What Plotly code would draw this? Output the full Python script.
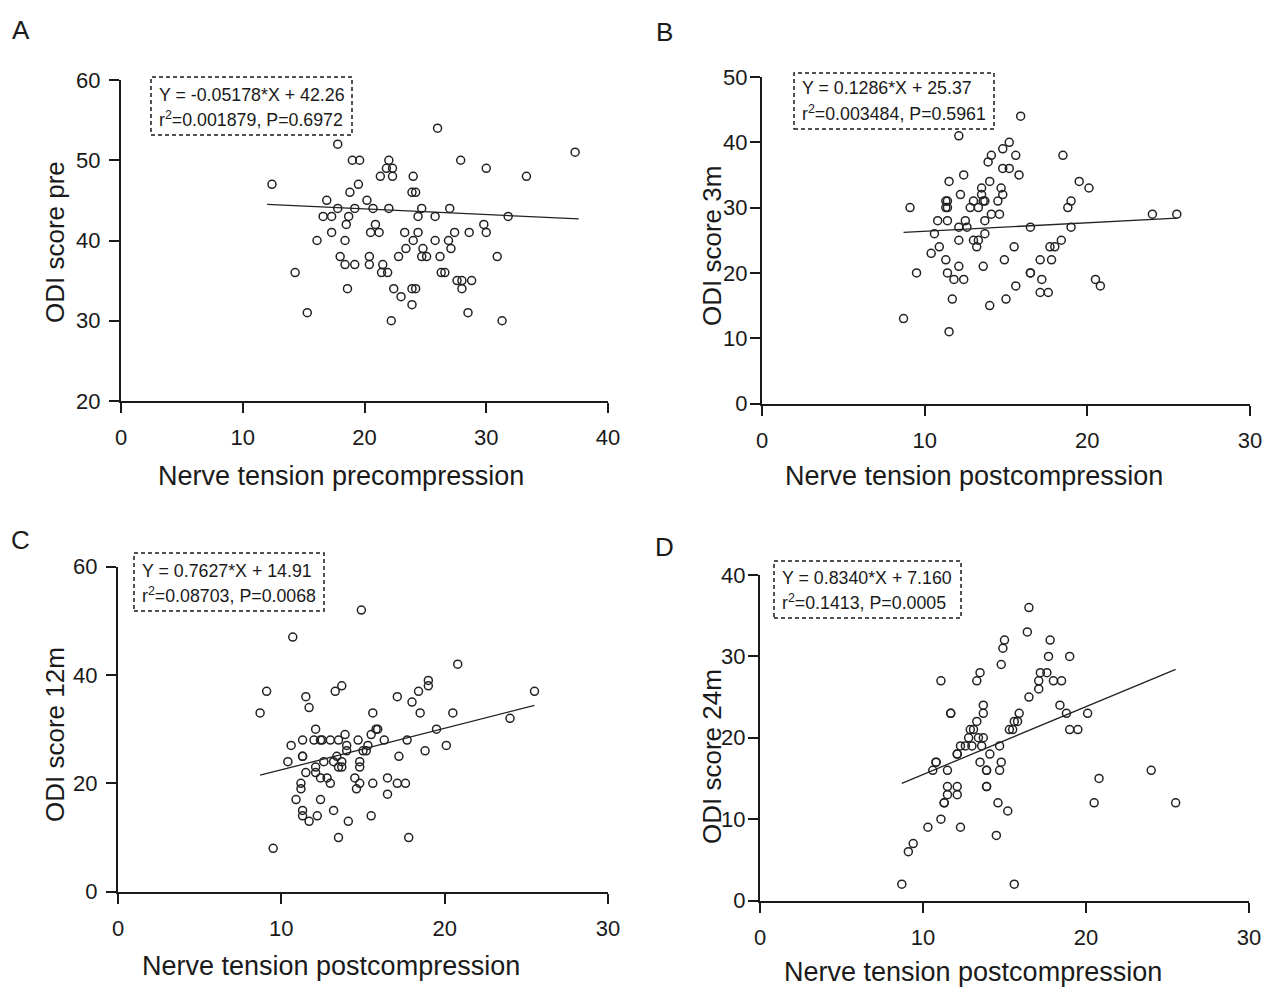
import plotly.graph_objects as go

W, H = 1264, 987

# ---------------- data ----------------
# Panel A: Nerve tension precompression vs ODI score pre
x_a = [17.8, 19.0, 19.6, 22.0, 21.8, 22.3, 21.3, 22.3, 12.4, 19.5, 18.8, 16.9, 20.2, 17.8, 19.2, 20.7, 22.0,
       16.6, 17.3, 18.7, 18.5, 20.9, 20.5, 21.2, 17.3, 16.1, 18.4, 18.0, 18.4, 19.2, 20.4, 20.4, 21.5, 21.4,
       21.9, 14.3, 18.6, 15.3, 22.2,
       26.0, 37.3, 27.9, 30.0, 24.0, 33.3, 23.9, 24.2, 24.7, 27.0, 24.4, 25.8, 31.8, 29.8, 23.3, 24.4, 27.4,
       28.6, 30.0, 24.0, 25.8, 26.9, 23.4, 24.8, 27.1, 22.8, 24.7, 25.1, 26.2, 30.9, 26.3, 26.6, 27.6, 28.0,
       28.8, 22.4, 23.9, 24.2, 28.0, 23.0, 23.9, 28.5, 31.3]
y_a = [52, 50, 50, 50, 49, 49, 48, 48, 47, 47, 46, 45, 45, 44, 44, 44, 44,
       43, 43, 43, 42, 42, 41, 41, 41, 40, 40, 38, 37, 37, 38, 37, 37, 36,
       36, 36, 34, 31, 30,
       54, 51, 50, 49, 48, 48, 46, 46, 44, 44, 43, 43, 43, 42, 41, 41, 41,
       41, 41, 40, 40, 40, 39, 39, 39, 38, 38, 38, 38, 38, 36, 36, 35, 35,
       35, 34, 34, 34, 34, 33, 32, 31, 30]
fit_a_x = [12.0, 37.6]
fit_a_y = [44.5, 42.7]

# Panel B: Nerve tension postcompression vs ODI score 3m
x_b = [12.1, 15.2, 14.8, 14.1, 13.9, 14.8, 15.2, 12.4, 11.5, 14.0, 13.5, 13.5, 14.7, 14.8, 12.2, 11.3, 11.4,
       11.3, 11.4, 13.0, 13.6, 13.7, 14.5, 12.8, 13.3, 9.1, 14.1, 14.6, 10.8, 11.4, 12.5, 13.7, 12.1, 12.6,
       10.6, 13.7, 12.1, 13.0, 13.3, 13.2, 10.9, 10.4, 11.3, 14.9, 12.1, 13.6, 9.5, 11.4, 11.8, 12.4, 11.7,
       15.0, 14.0, 8.7, 11.5,
       15.9, 15.6, 18.5, 15.8, 19.5, 20.1, 19.0, 18.8, 24.0, 25.5, 16.5, 19.0, 18.4, 15.5, 17.7, 18.0, 17.1,
       17.8, 16.5, 16.5, 17.2, 20.5, 15.6, 20.8, 17.1, 17.6]
y_b = [41, 40, 39, 38, 37, 36, 36, 35, 34, 34, 33, 32, 33, 32, 32, 31, 31,
       30, 30, 31, 31, 31, 31, 30, 30, 30, 29, 29, 28, 28, 28, 28, 27, 27,
       26, 26, 25, 25, 25, 24, 24, 23, 22, 22, 21, 21, 20, 20, 19, 19, 16,
       16, 15, 13, 11,
       44, 38, 38, 35, 34, 33, 31, 30, 29, 29, 27, 27, 25, 24, 24, 24, 22,
       22, 20, 20, 19, 19, 18, 18, 17, 17]
fit_b_x = [8.7, 25.5]
fit_b_y = [26.2, 28.4]

# Panel C: Nerve tension postcompression vs ODI score 12m
x_c = [14.9, 10.7, 9.1, 11.5, 13.7, 13.3, 11.7, 8.7, 12.1, 11.3, 12.0, 12.4, 12.5, 13.0, 13.5, 13.9, 14.7,
       10.6, 14.0, 14.0, 11.3, 11.3, 10.4, 12.6, 13.4, 13.2, 13.7, 12.1, 13.5, 13.7, 14.8, 14.8, 11.5, 12.1,
       12.4, 12.8, 13.0, 11.2, 11.2, 14.5, 14.8, 14.6, 10.9, 12.4, 11.3, 11.3, 11.7, 12.2, 13.2, 14.1, 13.5,
       9.5,
       20.8, 19.0, 19.0, 18.4, 17.1, 25.5, 18.0, 15.6, 18.5, 20.5, 24.0, 15.8, 15.9, 15.5, 19.5, 16.3, 17.7,
       15.3, 15.0, 15.2, 18.8, 20.1, 17.2, 15.6, 16.5, 17.1, 17.6, 16.5, 15.5, 17.8]
y_c = [52, 47, 37, 36, 38, 37, 34, 33, 30, 28, 28, 28, 28, 28, 28, 29, 28,
       27, 27, 26, 25, 25, 24, 24, 25, 24, 24, 23, 23, 23, 24, 23, 22, 22,
       21, 21, 20, 20, 19, 21, 20, 19, 17, 17, 15, 14, 13, 14, 15, 13, 10,
       8,
       42, 39, 38, 37, 36, 37, 35, 33, 33, 33, 32, 30, 30, 29, 30, 28, 28,
       27, 26, 26, 26, 27, 25, 20, 21, 20, 20, 18, 14, 10]
fit_c_x = [8.7, 25.5]
fit_c_y = [21.5, 34.4]

# Panel D: Nerve tension postcompression vs ODI score 24m
x_d = [15.0, 14.9, 14.8, 11.1, 13.5, 13.3, 11.7, 11.7, 13.7, 13.7, 13.3, 12.9, 13.1, 15.3, 12.8, 13.4, 13.7,
       12.3, 12.6, 13.0, 13.6, 14.7, 12.1, 12.1, 14.1, 10.8, 10.8, 13.5, 14.8, 10.6, 11.5, 13.9, 13.9, 14.7,
       13.9, 13.9, 11.5, 12.1, 11.5, 12.1, 11.3, 11.3, 14.6, 15.2, 11.1, 10.3, 12.3, 14.5, 9.4, 9.1, 8.7,
       15.6,
       16.5, 16.4, 17.8, 17.7, 19.0, 17.2, 17.6, 17.1, 18.0, 18.5, 17.1, 16.5, 18.4, 15.9, 18.8, 20.1, 15.6,
       15.8, 15.5, 19.0, 19.5, 24.0, 20.8, 20.5, 25.5]
y_d = [32, 31, 29, 27, 28, 27, 23, 23, 24, 23, 22, 21, 21, 21, 20, 20, 20,
       19, 19, 19, 19, 19, 18, 18, 18, 17, 17, 17, 17, 16, 16, 16, 16, 16,
       14, 14, 14, 14, 13, 13, 12, 12, 12, 11, 10, 9, 9, 8, 7, 6, 2,
       2,
       36, 33, 32, 30, 30, 28, 28, 27, 27, 27, 26, 25, 24, 23, 23, 23, 22,
       22, 21, 21, 21, 16, 15, 12, 12]
fit_d_x = [8.7, 25.5]
fit_d_y = [14.4, 28.4]

panel_letters = ["A", "B", "C", "D"]
y_titles = ["ODI score pre", "ODI score 3m", "ODI score 12m", "ODI score 24m"]
x_titles = ["Nerve tension precompression", "Nerve tension postcompression",
            "Nerve tension postcompression", "Nerve tension postcompression"]
eq_line1 = ["Y = -0.05178*X + 42.26", "Y = 0.1286*X + 25.37",
            "Y = 0.7627*X + 14.91", "Y = 0.8340*X + 7.160"]
eq_line2 = ["r<sup>2</sup>=0.001879, P=0.6972", "r<sup>2</sup>=0.003484, P=0.5961",
            "r<sup>2</sup>=0.08703, P=0.0068", "r<sup>2</sup>=0.1413, P=0.0005"]
x_ranges = [[0, 40], [0, 30], [0, 30], [0, 30]]
y_ranges = [[20, 60], [0, 50], [0, 60], [0, 40]]
x_dticks = [10, 10, 10, 10]
y_dticks = [10, 10, 20, 10]

# ---------------- layout geometry (window pixels) ----------------
# plot areas: (left, right, top, bottom)
areas = [(121, 608, 80, 401), (762, 1250, 77, 403.5),
         (118, 608, 566.7, 891.7), (760, 1249, 575, 900.5)]
boxes = [(151, 352, 77, 135), (794, 994, 73, 129), (134, 324, 553, 611), (774, 961, 561, 618)]
eq_pos = [(157, 95, 119), (800, 88, 113), (140, 571, 595), (780, 578, 602)]
letter_pos = [(21, 30), (664, 32), (21, 540), (664, 547)]
ytitle_pos = [(55, 242), (712, 246), (55, 735), (712, 757)]
xtitle_pos = [(341, 476), (974, 476), (331, 966), (973, 972)]
ylabel_standoff = [4, -2, 4, -2]

def px(x):
    return x / W

def py(y):
    return 1 - y / H

FONT = "Liberation Sans, Arial, sans-serif"
INK = "#1a1a1a"

fig = go.Figure()
datasets = [(x_a, y_a, fit_a_x, fit_a_y), (x_b, y_b, fit_b_x, fit_b_y),
            (x_c, y_c, fit_c_x, fit_c_y), (x_d, y_d, fit_d_x, fit_d_y)]

layout = dict(width=W, height=H, margin=dict(l=0, r=0, t=0, b=0, pad=0, autoexpand=False),
              template="none",
              paper_bgcolor="white", plot_bgcolor="white", showlegend=False,
              font=dict(family=FONT, color=INK))
shapes = []
annotations = []

for i, (xs, ys, fx, fy) in enumerate(datasets):
    n = "" if i == 0 else str(i + 1)
    xa, ya = "x" + n, "y" + n
    fig.add_trace(go.Scatter(x=xs, y=ys, mode="markers", xaxis=xa, yaxis=ya,
                             marker=dict(symbol="circle-open", size=8, color="#222",
                                         line=dict(width=1.5, color="#222")),
                             cliponaxis=False))
    fig.add_trace(go.Scatter(x=fx, y=fy, mode="lines", xaxis=xa, yaxis=ya,
                             line=dict(color="#222", width=1.3)))
    l, r, t, b = areas[i]
    axis_common = dict(showgrid=False, zeroline=False, showline=True, linecolor=INK, linewidth=2,
                       ticks="outside", ticklen=10, tickwidth=2, tickcolor=INK, automargin=False,
                       tickfont=dict(family=FONT, size=22, color=INK), fixedrange=True)
    layout["xaxis" + n] = dict(axis_common, domain=[px(l), px(r)], range=x_ranges[i],
                               dtick=x_dticks[i], tick0=0, anchor=ya, ticklabelstandoff=6)
    layout["yaxis" + n] = dict(axis_common, domain=[py(b), py(t)], range=y_ranges[i],
                               dtick=y_dticks[i], tick0=0, anchor=xa,
                               ticklabelstandoff=ylabel_standoff[i])
    bl, br, bt, bb = boxes[i]
    shapes.append(dict(type="rect", xref="paper", yref="paper", x0=px(bl), x1=px(br),
                       y0=py(bb), y1=py(bt), line=dict(color=INK, width=1.5, dash="4px,3px")))
    ex, e1, e2 = eq_pos[i]
    annotations.append(dict(text=eq_line1[i], xref="paper", yref="paper", x=px(ex), y=py(e1),
                            xanchor="left", yanchor="middle", showarrow=False,
                            font=dict(family=FONT, size=17.8, color=INK)))
    annotations.append(dict(text=eq_line2[i], xref="paper", yref="paper", x=px(ex), y=py(e2),
                            xanchor="left", yanchor="middle", showarrow=False,
                            font=dict(family=FONT, size=17.8, color=INK)))
    lx, ly = letter_pos[i]
    annotations.append(dict(text=panel_letters[i], xref="paper", yref="paper", x=px(lx), y=py(ly),
                            xanchor="center", yanchor="middle", showarrow=False,
                            font=dict(family=FONT, size=26, color=INK)))
    tx, ty = ytitle_pos[i]
    annotations.append(dict(text=y_titles[i], xref="paper", yref="paper", x=px(tx), y=py(ty),
                            xanchor="center", yanchor="middle", showarrow=False, textangle=-90,
                            font=dict(family=FONT, size=26, color=INK)))
    tx, ty = xtitle_pos[i]
    annotations.append(dict(text=x_titles[i], xref="paper", yref="paper", x=px(tx), y=py(ty),
                            xanchor="center", yanchor="middle", showarrow=False,
                            font=dict(family=FONT, size=27, color=INK)))

layout["shapes"] = shapes
layout["annotations"] = annotations
fig.update_layout(**layout)
# remove the page's default 8px body margin so the figure fills the window exactly
fig.write_html("out.html", config={"displayModeBar": False},
               post_script="document.body.style.margin='0';document.body.style.overflow='hidden';")
